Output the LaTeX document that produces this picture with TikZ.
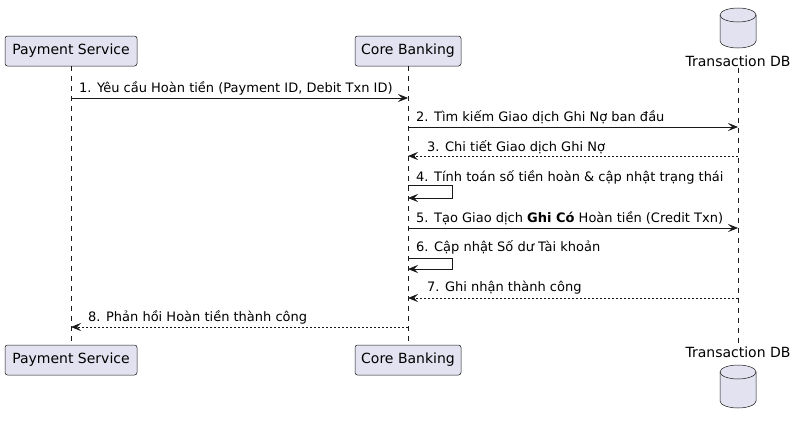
\documentclass[tikz,border=0pt]{standalone}
\usepackage{fontspec}
\setmainfont{DejaVu Sans}
\usetikzlibrary{arrows.meta}
\definecolor{pfill}{HTML}{E2E2F0}
\definecolor{pline}{HTML}{181818}
\begin{document}
\begin{tikzpicture}[x=1pt,y=-1pt,
  part/.style={draw=pline,fill=pfill,rounded corners=2.5pt,line width=0.5pt,minimum height=30pt,inner xsep=2pt,font=\fontsize{14}{16}\selectfont},
  dbl/.style={inner sep=1pt,font=\fontsize{14}{16}\selectfont},
  life/.style={draw=pline,line width=0.5pt,dash pattern=on 5pt off 5pt},
  msg/.style={draw=pline,line width=0.75pt,-{Stealth[length=10pt,width=8pt,inset=4pt]}},
  ret/.style={msg,dash pattern=on 2pt off 2pt},
  lbl/.style={anchor=west,inner sep=0pt,font=\fontsize{13}{15}\selectfont},
  cyl/.style={draw=pline,fill=pfill,line width=0.5pt}]
\fill[white] (0,0) rectangle (795,423);
\useasboundingbox (0,0) rectangle (795,423);
% participants
\node[part,minimum width=132pt] (psT) at (71,51) {Payment Service};
\node[part,minimum width=106pt] (cbT) at (408,51) {Core Banking};
\node[part,minimum width=132pt] (psB) at (71,360) {Payment Service};
\node[part,minimum width=106pt] (cbB) at (408,360) {Core Banking};
\node[dbl] (dbT) at (738,61) {Transaction DB};
\node[dbl] (dbB) at (738,352) {Transaction DB};
% database cylinders
\draw[cyl] (720,15) -- (720,41) arc[start angle=180,end angle=360,x radius=18pt,y radius=7pt]
  -- (756,15) arc[start angle=0,end angle=180,x radius=18pt,y radius=7pt] -- cycle;
\draw[cyl,fill=none] (720,15) arc[start angle=180,end angle=360,x radius=18pt,y radius=7pt];
\draw[cyl] (720,372) -- (720,401) arc[start angle=180,end angle=360,x radius=18pt,y radius=7pt]
  -- (756,372) arc[start angle=0,end angle=180,x radius=18pt,y radius=7pt] -- cycle;
\draw[cyl,fill=none] (720,372) arc[start angle=180,end angle=360,x radius=18pt,y radius=7pt];
% lifelines
\draw[life] (psT.south) -- (psB.north);
\draw[life] (cbT.south) -- (cbB.north);
\draw[life] (dbT.south) -- (dbB.north);
% message end points
\coordinate (m1a) at (71,98);  \coordinate (m1b) at (408,98);
\coordinate (m2a) at (408,127); \coordinate (m2b) at (738,127);
\coordinate (m3a) at (738,156); \coordinate (m3b) at (408,156);
\coordinate (m4a) at (408,185); \coordinate (m4b) at (408,198);
\coordinate (m5a) at (408,228); \coordinate (m5b) at (738,228);
\coordinate (m6a) at (408,258); \coordinate (m6b) at (408,269);
\coordinate (m7a) at (738,298); \coordinate (m7b) at (408,298);
\coordinate (m8a) at (408,327); \coordinate (m8b) at (71,327);
% messages
\draw[msg] (m1a) -- (m1b);
\draw[msg] (m2a) -- (m2b);
\draw[ret] (m3a) -- (m3b);
\draw[msg] (m4a) -- ++(44,0) |- (m4b);
\draw[msg] (m5a) -- (m5b);
\draw[msg] (m6a) -- ++(44,0) |- (m6b);
\draw[ret] (m7a) -- (m7b);
\draw[ret] (m8a) -- (m8b);
% labels
\node[lbl] (l1) at (79,88) {1. Yêu cầu Hoàn tiền (Payment ID, Debit Txn ID)};
\node[lbl] (l2) at (416,117) {2. Tìm kiếm Giao dịch Ghi Nợ ban đầu};
\node[lbl] (l3) at (427,147) {3. Chi tiết Giao dịch Ghi Nợ};
\node[lbl] (l4) at (416,177) {4. Tính toán số tiền hoàn \& cập nhật trạng thái};
\node[lbl] (l5) at (416,218) {5. Tạo Giao dịch \textbf{Ghi Có} Hoàn tiền (Credit Txn)};
\node[lbl] (l6) at (416,247) {6. Cập nhật Số dư Tài khoản};
\node[lbl] (l7) at (427,288) {7. Ghi nhận thành công};
\node[lbl] (l8) at (88,317) {8. Phản hồi Hoàn tiền thành công};
\end{tikzpicture}
\end{document}
